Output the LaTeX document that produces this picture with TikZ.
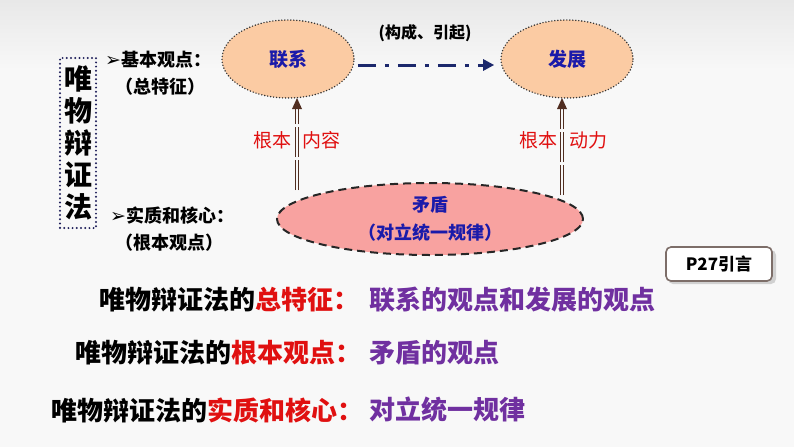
\documentclass[tikz,border=0pt]{standalone}
\usepackage{fontspec}
\setmainfont{Noto Sans CJK SC}
\newfontfamily\dejavu{DejaVu Sans}
\usetikzlibrary{shapes.geometric,arrows.meta}
\definecolor{bgc}{RGB}{248,248,248}
\definecolor{topgray}{RGB}{232,232,232}
\definecolor{peach}{RGB}{251,203,163}
\definecolor{pinkfill}{RGB}{248,162,160}
\definecolor{navytext}{RGB}{26,26,170}
\definecolor{arrownavy}{RGB}{28,40,108}
\definecolor{redtext}{RGB}{224,16,16}
\definecolor{purpletext}{RGB}{112,48,160}
\definecolor{brownarrow}{RGB}{80,45,32}
\definecolor{boxborder}{RGB}{125,110,105}
\definecolor{dotnavy}{RGB}{30,30,90}
\begin{document}
\begin{tikzpicture}[x=1pt,y=-1pt,
  topell/.style={ellipse, inner sep=0pt, minimum width=132pt, minimum height=78pt,
    fill=peach, draw=black!80, line width=1.6pt, dash pattern=on 0pt off 3pt, line cap=round,
    font=\fontsize{19}{22}\selectfont\bfseries, text=navytext},
  midlabel/.style={font=\fontsize{19}{22}\selectfont, text=redtext, inner sep=0pt},
  sidelabel/.style={font=\fontsize{18}{21}\selectfont\bfseries, text=black, inner sep=0pt, anchor=west},
  blackline/.style={font=\fontsize{26}{30}\selectfont\bfseries, text=black, inner sep=0pt, anchor=west},
  purpleline/.style={font=\fontsize{26}{30}\selectfont\bfseries, text=purpletext, inner sep=0pt, anchor=west},
  dblline/.style={draw=brownarrow, line width=0.9pt, dash pattern=on 30pt off 3pt},
  tipfill/.style={fill=brownarrow}
]
\useasboundingbox (0,0) rectangle (794,447);
\fill[bgc] (0,0) rectangle (794,447);
\shade[top color=topgray, bottom color=bgc] (0,0) rectangle (794,70);

% left vertical title box
\node[draw=dotnavy, line width=2.2pt, dash pattern=on 0pt off 4.2pt, line cap=round,
  minimum width=36pt, minimum height=170pt, inner sep=0pt, align=center,
  font=\fontsize{28}{32}\selectfont\bfseries] (title) at (78,143) {唯\\物\\辩\\证\\法};

% side labels
\node[sidelabel] (s1) at (105,60) {{\dejavu\bfseries\fontsize{19}{20}\selectfont ➢}基本观点：};
\node[sidelabel] (s2) at (115,87) {（总特征）};
\node[sidelabel] (s3) at (110,216) {{\dejavu\bfseries\fontsize{19}{20}\selectfont ➢}实质和核心：};
\node[sidelabel] (s4) at (115,243) {（根本观点）};

% ellipses
\node[topell] (lx) at (288,59) {联系};
\node[topell] (fz) at (567,59) {发展};
\node[ellipse, inner sep=0pt, minimum width=306pt, minimum height=72pt, fill=pinkfill,
  draw=black!85, line width=2pt, dash pattern=on 8pt off 5pt, align=center,
  font=\fontsize{18}{28}\selectfont\bfseries, text=navytext] (md) at (430,219) {矛盾\\（对立统一规律）};

% dash-dot arrow
\draw[arrownavy, line width=3pt, dash pattern=on 18pt off 9pt on 4pt off 9pt,
  -{Triangle[length=11pt,width=11pt]}] ([shift={(3,6)}]lx.east) -- ([shift={(-6,6)}]fz.west);
\node[font=\fontsize{16}{19}\selectfont\bfseries, inner sep=0pt] (gc) at (425,33) {(构成、引起)};

% double arrows
\coordinate (a1) at (297,190);
\coordinate (a2) at (562,195);
\coordinate (t1) at (297,98);
\coordinate (t2) at (562,98);
\draw[dblline] ([xshift=-1.5]a1) -- ([shift={(-1.5,9)}]t1);
\draw[dblline] ([xshift=1.5]a1) -- ([shift={(1.5,9)}]t1);
\draw[dblline] ([xshift=-1.5]a2) -- ([shift={(-1.5,9)}]t2);
\draw[dblline] ([xshift=1.5]a2) -- ([shift={(1.5,9)}]t2);
\fill[tipfill] (t1) -- ([shift={(-5,11)}]t1) -- ([shift={(5,11)}]t1) -- cycle;
\fill[tipfill] (t2) -- ([shift={(-5,11)}]t2) -- ([shift={(5,11)}]t2) -- cycle;
\node[midlabel, anchor=east] (l1) at (292,140) {根本};
\node[midlabel, anchor=west] (l2) at (302,140) {内容};
\node[midlabel, anchor=east] (l3) at (558,140) {根本};
\node[midlabel, anchor=west] (l4) at (569,140) {动力};

% P27 box
\fill[black!18, rounded corners=5pt] (668,250) rectangle (776,284);
\node[draw=boxborder, fill=white, line width=1.6pt, rounded corners=5pt,
  minimum width=106pt, minimum height=34pt, inner sep=0pt,
  font=\fontsize{17}{20}\selectfont\bfseries] (p27) at (719,264) {P27引言};

% bottom lines
\node[blackline] (b1) at (99,300) {唯物辩证法的\textcolor{redtext}{总特征：}};
\node[purpleline] (c1) at (369,300) {联系的观点和发展的观点};
\node[blackline] (b2) at (75,353) {唯物辩证法的\textcolor{redtext}{根本观点：}};
\node[purpleline] (c2) at (369,353) {矛盾的观点};
\node[blackline] (b3) at (51,410) {唯物辩证法的\textcolor{redtext}{实质和核心：}};
\node[purpleline] (c3) at (369,410) {对立统一规律};
\end{tikzpicture}
\end{document}
